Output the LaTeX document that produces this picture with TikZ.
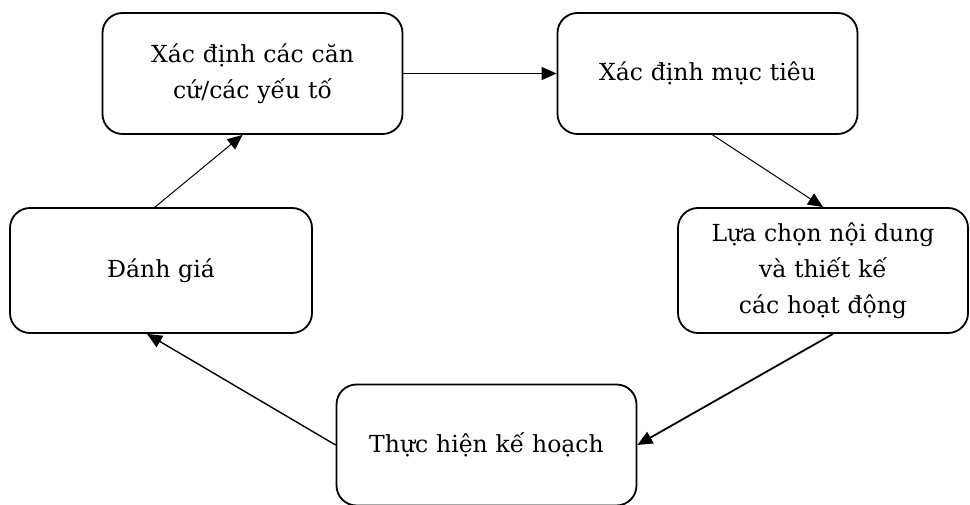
\documentclass[tikz,border=0pt]{standalone}
\usepackage{fontspec}
\setmainfont{DejaVu Serif}
\usetikzlibrary{shapes,arrows.meta}

\begin{document}
\begin{tikzpicture}[x=1pt, y=-1pt, >={Triangle[length=15pt,width=13pt]}]
			\tikzset{
				stage/.style={rectangle, rounded corners=20pt, minimum width=300pt, minimum height=121pt, text width=280pt, align=center, draw=black, line width=1.8pt, font=\fontsize{23.5}{36}\selectfont},
				arrow/.style={line width=1pt,->},
			}
			\useasboundingbox (0,0) rectangle (970,505);
			\node[stage](cancu) at (252.5,73.5){Xác định các căn\\cứ/các yếu tố};
			\node[stage](muctieu) at (707.5,73.5){Xác định mục tiêu};
			\node[stage, minimum width=290pt, minimum height=125pt](noidung) at (823,270.5){Lựa chọn nội dung\\và thiết kế\\các hoạt động};
			\node[stage](thuchien) at (486.5,445){Thực hiện kế hoạch};
			\node[stage, minimum width=302pt, minimum height=125pt](danhgia) at (161,270.5){Đánh giá};
			%draw arrows
			\draw[arrow, line width=1.3pt] (cancu.east) -- (muctieu.west);
			\draw[arrow] ([xshift=5pt]muctieu.south) -- (noidung.north);
			\draw[arrow, line width=1.8pt] ([xshift=10pt]noidung.south) -- (thuchien.east);
			\draw[arrow, line width=1.4pt] (thuchien.west) -- ([xshift=-14pt]danhgia.south);
			\draw[arrow] ([xshift=-6pt]danhgia.north) -- ([xshift=-10pt]cancu.south);
		\end{tikzpicture}
\end{document}
